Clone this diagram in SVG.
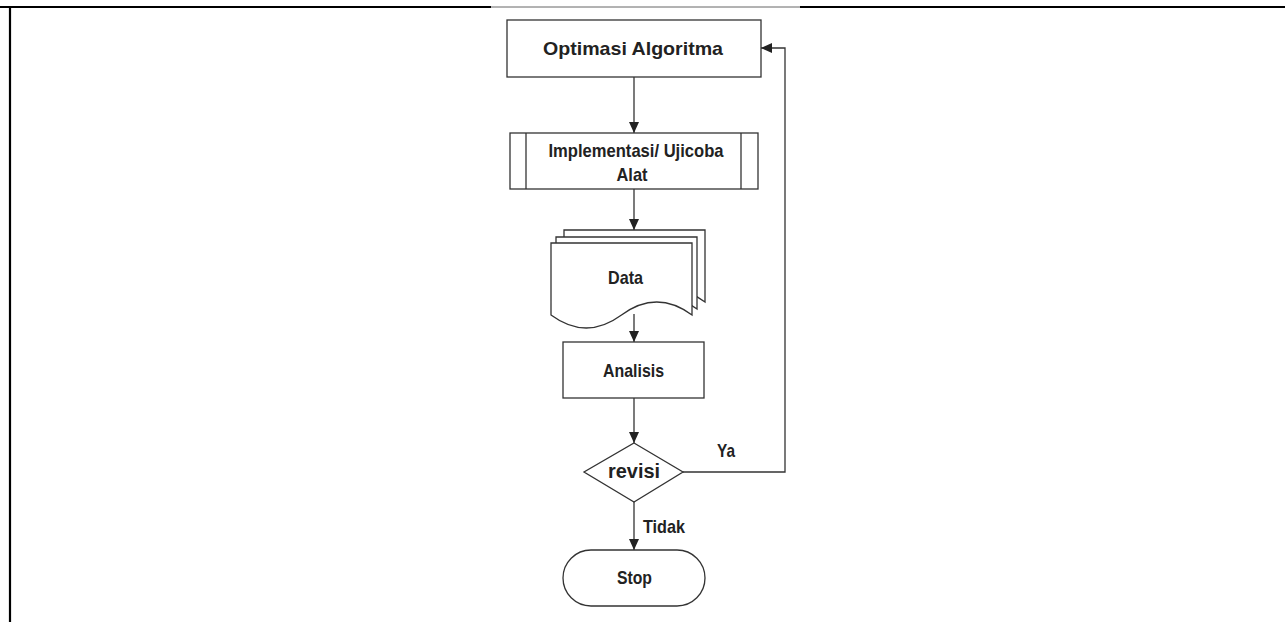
<svg xmlns="http://www.w3.org/2000/svg" width="1285" height="622" viewBox="0 0 1285 622">
<style>
.s{fill:#fff;stroke:#333;stroke-width:1.3}
.c{fill:none;stroke:#333;stroke-width:1.3}
.t{font-family:"Liberation Sans",Arial,sans-serif;font-weight:bold;font-size:19px;fill:#222}
.m{text-anchor:middle}
</style>
<defs>
<marker id="ah" markerUnits="userSpaceOnUse" markerWidth="11" markerHeight="10" refX="11" refY="5" orient="auto">
<path d="M0,0 L11,5 L0,10 Z" fill="#222"/>
</marker>
</defs>
<rect width="1285" height="622" fill="#fff"/>
<g id="frame">
<line x1="0" y1="7" x2="491" y2="7" stroke="#000" stroke-width="2.2"/>
<line x1="491" y1="7" x2="800" y2="7" stroke="#666" stroke-width="1"/>
<line x1="800" y1="7" x2="1285" y2="7" stroke="#000" stroke-width="2.2"/>
<line x1="10" y1="6" x2="10" y2="622" stroke="#000" stroke-width="2.2"/>
</g>
<g id="connectors">
<line class="c" x1="634" y1="77" x2="634" y2="133" marker-end="url(#ah)"/>
<line class="c" x1="634" y1="189" x2="634" y2="230" marker-end="url(#ah)"/>
<line class="c" x1="634" y1="314" x2="634" y2="342" marker-end="url(#ah)"/>
<line class="c" x1="634" y1="398" x2="634" y2="443" marker-end="url(#ah)"/>
<line class="c" x1="634" y1="502" x2="634" y2="550" marker-end="url(#ah)"/>
<polyline class="c" points="683,472 785,472 785,48 761,48" marker-end="url(#ah)"/>
<text class="t" x="717" y="457" textLength="18" lengthAdjust="spacingAndGlyphs">Ya</text>
<text class="t" x="643" y="533" textLength="42" lengthAdjust="spacingAndGlyphs">Tidak</text>
</g>
<g id="optimasi">
<rect class="s" x="507" y="20" width="254" height="57"/>
<text class="t m" x="633" y="55" textLength="180" lengthAdjust="spacingAndGlyphs">Optimasi Algoritma</text>
</g>
<g id="implementasi">
<rect class="s" x="510" y="133" width="248" height="56"/>
<line class="c" x1="526" y1="133" x2="526" y2="189"/>
<line class="c" x1="741" y1="133" x2="741" y2="189"/>
<text class="t m" x="636" y="157" textLength="175" lengthAdjust="spacingAndGlyphs">Implementasi/ Ujicoba</text>
<text class="t m" x="632" y="181" textLength="31" lengthAdjust="spacingAndGlyphs">Alat</text>
</g>
<g id="data">
<path class="s" transform="translate(13,-13)" d="M551,243 H692 V315 Q656.75,289 621.5,315 Q586.25,341 551,315 Z"/>
<path class="s" transform="translate(5,-6)" d="M551,243 H692 V315 Q656.75,289 621.5,315 Q586.25,341 551,315 Z"/>
<path class="s" d="M551,243 H692 V315 Q656.75,289 621.5,315 Q586.25,341 551,315 Z"/>
<text class="t m" x="625.5" y="284" textLength="35" lengthAdjust="spacingAndGlyphs">Data</text>
</g>
<g id="analisis">
<rect class="s" x="563" y="342" width="141" height="56"/>
<text class="t m" x="633.5" y="377" textLength="61" lengthAdjust="spacingAndGlyphs">Analisis</text>
</g>
<g id="revisi">
<polygon class="s" points="634,443 683,472 634,502 584,472"/>
<text class="t m" x="634" y="478" style="font-size:20px" textLength="52" lengthAdjust="spacingAndGlyphs">revisi</text>
</g>
<g id="stop">
<rect class="s" x="563" y="550" width="142" height="56" rx="28" ry="28"/>
<text class="t m" x="634.5" y="584" textLength="35" lengthAdjust="spacingAndGlyphs">Stop</text>
</g>
</svg>
